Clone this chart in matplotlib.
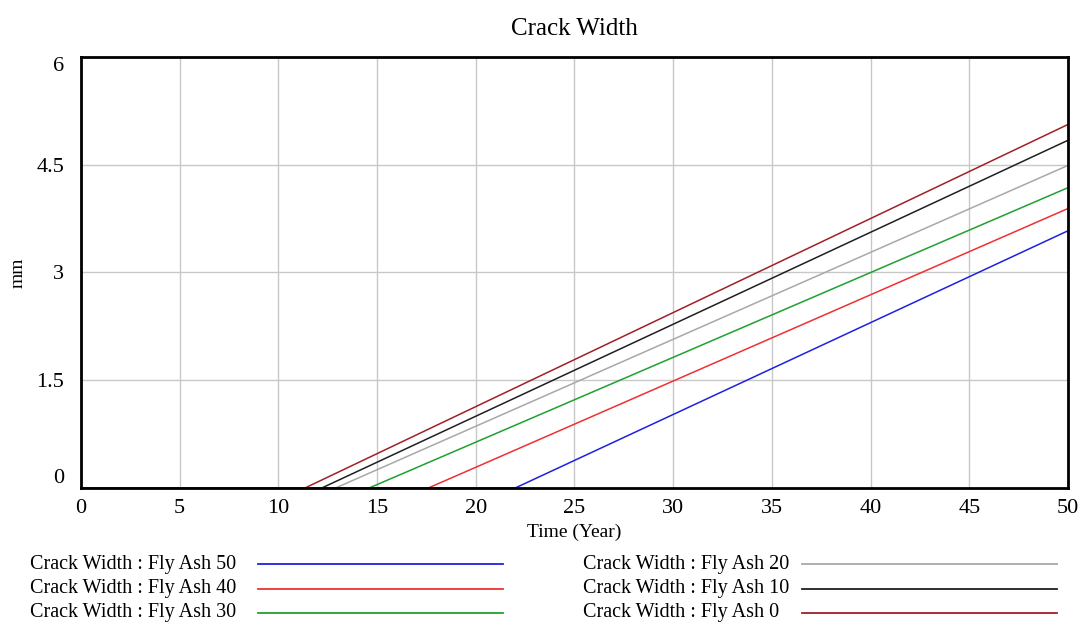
import matplotlib.pyplot as plt
from matplotlib.lines import Line2D

plt.rcParams['font.family'] = ['Liberation Serif', 'DejaVu Serif']

# series: year where crack starts, width at year 50
labels = ["Crack Width : Fly Ash 50", "Crack Width : Fly Ash 40", "Crack Width : Fly Ash 30",
          "Crack Width : Fly Ash 20", "Crack Width : Fly Ash 10", "Crack Width : Fly Ash 0"]
start_year = [22.0, 17.6, 14.6, 12.9, 12.2, 11.35]
end_width = [3.58, 3.89, 4.18, 4.49, 4.84, 5.06]
colors = ["#2020e0", "#f03030", "#20a030", "#a8a8a8", "#202020", "#a02028"]
x_ticks = [0, 5, 10, 15, 20, 25, 30, 35, 40, 45, 50]
y_ticks = [0, 1.5, 3, 4.5, 6]
y_tick_labels = ["0", "1.5", "3", "4.5", "6"]

fig = plt.figure(figsize=(10.83, 6.24), dpi=100)
ax = fig.add_axes([0.0748, 0.218, 0.9113, 0.6907])

# draw in reverse so the blue one ends up on top along the zero line
for i in reversed(range(len(labels))):
    ax.plot([0, start_year[i], 50], [0, 0, end_width[i]], color=colors[i], lw=1.1)

ax.set_xlim(0, 50)
ax.set_ylim(0, 6)
ax.set_xticks(x_ticks)
ax.set_yticks(y_ticks)
ax.set_yticklabels(y_tick_labels)
ax.grid(True, color="#c8c8c8", lw=1)
ax.set_axisbelow(True)
ax.tick_params(length=0, labelsize=16, pad=8)
ax.tick_params(axis='y', pad=12)
ylabs = ax.get_yticklabels()
ylabs[0].set_va('bottom')
ylabs[-1].set_va('top')
for s in ax.spines.values():
    s.set_linewidth(2)
    s.set_color("black")

ax.set_title("Crack Width", fontsize=18, pad=16)
ax.set_xlabel("Time (Year)", fontsize=14, labelpad=4)
ax.set_ylabel("mm", fontsize=14)
ax.yaxis.set_label_coords(-0.055, 0.5)

# legend in two columns, text then line
rows_y = [1 - 564 / 624, 1 - 589 / 624, 1 - 613 / 624]
for i, lab in enumerate(labels):
    col = i // 3
    row = i % 3
    tx = 30 / 1083 if col == 0 else 583 / 1083
    lx0, lx1 = (258 / 1083, 503 / 1083) if col == 0 else (802 / 1083, 1057 / 1083)
    fig.text(tx, rows_y[row], lab, fontsize=14.5, va='center', ha='left')
    fig.add_artist(Line2D([lx0, lx1], [rows_y[row], rows_y[row]], color=colors[i], lw=1.3,
                          transform=fig.transFigure))

fig.savefig("out.png", dpi=100)
